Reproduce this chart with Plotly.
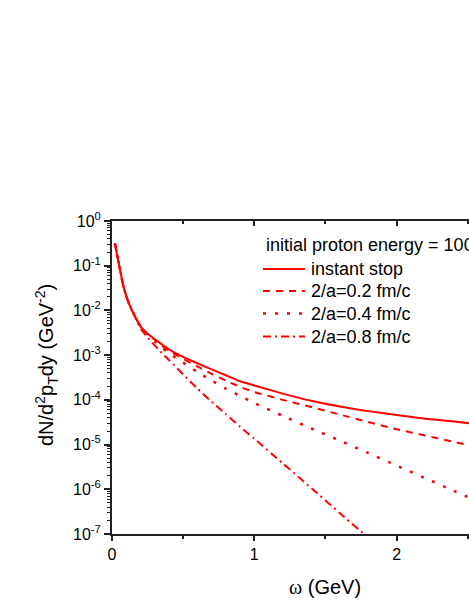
import plotly.graph_objects as go

# ---------------- data ----------------
omega = [0.02, 0.04, 0.06, 0.08, 0.10, 0.12, 0.15, 0.20, 0.25, 0.30, 0.35, 0.40,
         0.50, 0.60, 0.70, 0.80, 0.90, 1.00, 1.20, 1.40, 1.60, 1.80, 2.00, 2.20,
         2.40, 2.60]

instant_stop = [3.2e-1, 1.5e-1, 7.1e-2, 3.5e-2, 2.1e-2, 1.4e-2, 8.7e-3, 4.4e-3,
                3.0e-3, 2.3e-3, 1.74e-3, 1.35e-3, 9.1e-4, 6.6e-4, 4.8e-4, 3.55e-4,
                2.6e-4, 2.1e-4, 1.38e-4, 9.5e-5, 7.1e-5, 5.6e-5, 4.6e-5, 3.8e-5,
                3.3e-5, 2.8e-5]

stop_02 = [3.2e-1, 1.5e-1, 7.1e-2, 3.5e-2, 2.1e-2, 1.4e-2, 8.7e-3, 4.4e-3,
           3.0e-3, 2.2e-3, 1.66e-3, 1.26e-3, 8.3e-4, 5.6e-4, 3.8e-4, 2.7e-4,
           1.95e-4, 1.5e-4, 1.0e-4, 6.9e-5, 4.7e-5, 3.2e-5, 2.2e-5, 1.6e-5,
           1.15e-5, 8.5e-6]

stop_04 = [3.2e-1, 1.5e-1, 7.1e-2, 3.5e-2, 2.1e-2, 1.4e-2, 8.7e-3, 4.4e-3,
           2.9e-3, 2.0e-3, 1.48e-3, 1.1e-3, 6.8e-4, 4.2e-4, 2.7e-4, 1.78e-4,
           1.23e-4, 8.5e-5, 4.4e-5, 2.3e-5, 1.23e-5, 6.5e-6, 3.4e-6, 1.78e-6,
           9.3e-7, 4.9e-7]

stop_08 = [3.2e-1, 1.5e-1, 7.1e-2, 3.5e-2, 2.1e-2, 1.4e-2, 8.7e-3, 4.0e-3,
           2.5e-3, 1.66e-3, 1.12e-3, 7.8e-4, 3.7e-4, 1.78e-4, 9.1e-5, 4.8e-5,
           2.5e-5, 1.35e-5, 3.8e-6, 1.07e-6, 2.95e-7, 8.3e-8]

series_names = ["instant stop", "2/a=0.2 fm/c", "2/a=0.4 fm/c", "2/a=0.8 fm/c"]
legend_title = "initial proton energy = 100 GeV"

y_major = [1e-7, 1e-6, 1e-5, 1e-4, 1e-3, 1e-2, 1e-1, 1]
y_labels = ["10<sup>-7</sup>", "10<sup>-6</sup>", "10<sup>-5</sup>", "10<sup>-4</sup>",
            "10<sup>-3</sup>", "10<sup>-2</sup>", "10<sup>-1</sup>", "10<sup>0</sup>"]
y_minor = [m * d for d in y_major[:-1] for m in range(2, 10)]

FONT = "Liberation Sans, Arial, sans-serif"
RED = "#ff0000"
AXIS = "#222222"

# plot area in pixels (figure 469 x 607)
L, R, T, B = 112, 469, 221, 534


def px(x):
    return (x - L) / (R - L)


def py(y):
    return (B - y) / (B - T)


# ---------------- figure ----------------
fig = go.Figure()

styles = [
    (instant_stop, "solid", 2),
    (stop_02, "7px,6px", 2),
    (stop_04, "3px,9px", 2.5),
    (stop_08, "8px,4px,2px,4px", 2),
]
for (ys, dash, w), name in zip(styles, series_names):
    fig.add_trace(go.Scatter(
        x=omega[:len(ys)], y=ys, mode="lines", name=name, showlegend=False,
        line=dict(color=RED, width=w, dash=dash, shape="spline", smoothing=0.6)
    ))

# dummy trace so the top axis gets drawn
fig.add_trace(go.Scatter(x=[None], y=[None], xaxis="x2", yaxis="y",
                         showlegend=False, hoverinfo="skip"))

x_range = [0, 2.509]

fig.update_layout(
    width=469, height=607,
    margin=dict(l=L, r=469 - R, t=T, b=607 - B),
    paper_bgcolor="white", plot_bgcolor="white",
    font=dict(family=FONT, size=16, color="black"),
    showlegend=False,
    xaxis=dict(
        range=x_range, showgrid=False, zeroline=False, automargin=False,
        showline=True, linecolor=AXIS, linewidth=2,
        ticks="outside", ticklen=5, tickwidth=1.5, tickcolor=AXIS,
        tickvals=[0, 1, 2], ticktext=["0", "1", "2"],
        minor=dict(ticks="outside", ticklen=3, tickwidth=1.5, tickcolor=AXIS, dtick=0.5, tick0=0),
        tickfont=dict(size=16),
    ),
    xaxis2=dict(
        range=x_range, overlaying="x", side="top", anchor="y", automargin=False,
        showgrid=False, zeroline=False, showticklabels=False,
        showline=True, linecolor=AXIS, linewidth=2,
        ticks="inside", ticklen=5, tickwidth=1.5, tickcolor=AXIS,
        tickvals=[0, 1, 2],
        minor=dict(ticks="inside", ticklen=3, tickwidth=1.5, tickcolor=AXIS, dtick=0.5, tick0=0),
    ),
    yaxis=dict(
        type="log", range=[-7, 0], showgrid=False, zeroline=False, automargin=False,
        showline=True, linecolor=AXIS, linewidth=2,
        ticks="outside", ticklen=6, tickwidth=1.5, tickcolor=AXIS,
        tickmode="array", tickvals=y_major, ticktext=y_labels,
        minor=dict(ticks="outside", ticklen=3, tickwidth=1, tickcolor=AXIS,
                   tickmode="array", tickvals=y_minor),
        tickfont=dict(size=16),
    ),
)

# axis titles
fig.add_annotation(text="dN/d<sup>2</sup>p<sub>T</sub>dy (GeV<sup>-2</sup>)",
                   xref="paper", yref="paper", x=px(46), y=py(365),
                   xanchor="center", yanchor="middle", textangle=-90,
                   showarrow=False, font=dict(size=20))
fig.add_annotation(text="<span style='font-family:Liberation Serif'>ω</span> (GeV)",
                   xref="x", yref="paper",
                   x=1.5, y=py(587), xanchor="center", yanchor="middle",
                   showarrow=False, font=dict(size=20))

# legend drawn by hand so the key lines are as long as in the original
fig.add_annotation(text=legend_title, xref="paper", yref="paper",
                   x=px(264), y=py(245), xanchor="left", yanchor="middle",
                   showarrow=False, font=dict(size=18))
rows = [269, 291, 313.5, 336.5]
for (ys, dash, w), name, row in zip(styles, series_names, rows):
    fig.add_shape(type="line", xref="paper", yref="paper",
                  x0=px(263), x1=px(305), y0=py(row), y1=py(row),
                  line=dict(color=RED, width=w, dash=dash))
    fig.add_annotation(text=name, xref="paper", yref="paper",
                       x=px(309), y=py(row), xanchor="left", yanchor="middle",
                       showarrow=False, font=dict(size=18))

# drop the browser's default 8px body margin so the figure sits at the page corner
fig.write_html("out.html", config={"displayModeBar": False},
               post_script="document.body.style.margin='0px';")
